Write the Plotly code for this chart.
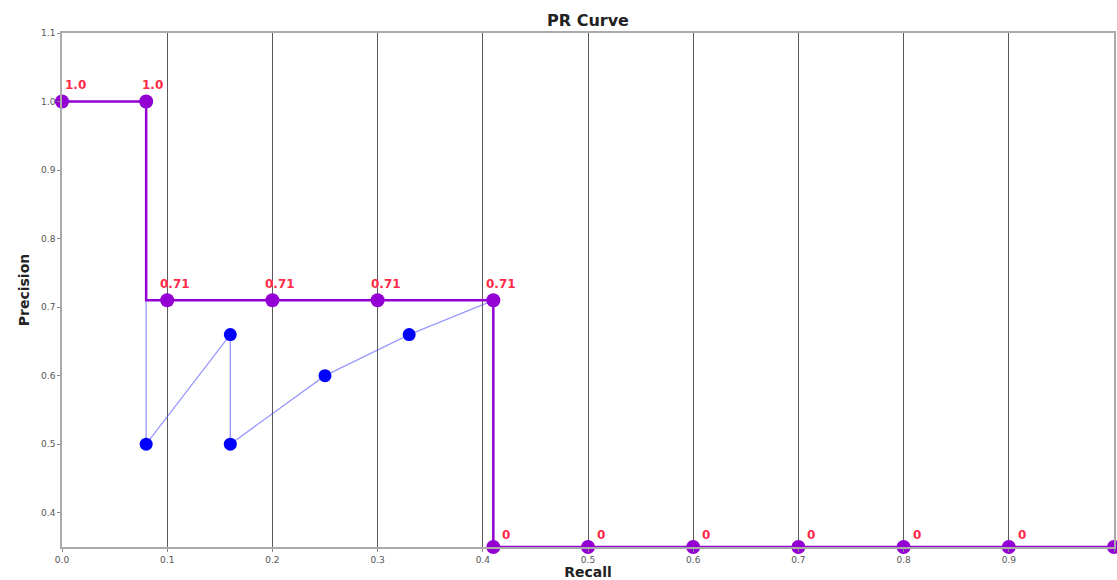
import numpy as np
import plotly.graph_objects as go

# Raw PR curve (blue)
recall_raw = [0.0, 0.08, 0.08, 0.16, 0.16, 0.25, 0.33, 0.41]
precision_raw = [1.0, 1.0, 0.5, 0.66, 0.5, 0.6, 0.66, 0.71]

# Interpolated PR curve (purple)
recall_interp = [0.0, 0.08, 0.1, 0.2, 0.3, 0.41, 0.41, 0.5, 0.6, 0.7, 0.8, 0.9, 1.0]
precision_interp = [1.0, 1.0, 0.71, 0.71, 0.71, 0.71, 0, 0, 0, 0, 0, 0, 0]
labels_interp = ["1.0", "1.0", "0.71", "0.71", "0.71", "0.71", "0", "0", "0", "0", "0", "0", ""]

x_ticks = [0.0, 0.1, 0.2, 0.3, 0.4, 0.5, 0.6, 0.7, 0.8, 0.9, 1.0]
y_ticks = [0.4, 0.5, 0.6, 0.7, 0.8, 0.9, 1.0, 1.1]
Y_MIN, Y_MAX = 0.35, 1.1

FONT = "DejaVu Sans"
PURPLE = "#9400d3"

fig = go.Figure()

fig.add_trace(go.Scatter(
    x=recall_raw, y=precision_raw, mode="lines+markers",
    line=dict(color="rgba(70,70,255,0.55)", width=1.3),
    marker=dict(color="#0000ff", size=13),
    cliponaxis=False, showlegend=False,
))

y_plot = np.maximum(np.array(precision_interp, dtype=float), Y_MIN)
fig.add_trace(go.Scatter(
    x=recall_interp, y=y_plot, mode="lines+markers",
    line=dict(color=PURPLE, width=2.5, shape="vh"),
    marker=dict(color=PURPLE, size=14),
    cliponaxis=False, showlegend=False,
))

# label pixel offsets (style only)
label_dx = [1, -6, -9, -9, -9, -9, 7, 7, 7, 7, 7, 7, 7]
label_dy = [17, 17, 16, 16, 16, 16, 12, 12, 12, 12, 12, 12, 12]
for xv, yv, txt, dx, dy in zip(recall_interp, y_plot, labels_interp, label_dx, label_dy):
    if not txt:
        continue
    fig.add_annotation(
        x=xv, y=yv, text=f"<b>{txt}</b>", showarrow=False,
        xanchor="left", yanchor="middle", xshift=dx, yshift=dy,
        font=dict(color="#ff2a4a", size=12, family=FONT),
    )

fig.update_layout(
    width=1117, height=580,
    margin=dict(l=62, r=3, t=33, b=33, autoexpand=False),
    paper_bgcolor="white", plot_bgcolor="white",
    font=dict(family=FONT, color="#444"),
    title=dict(text="<b>PR Curve</b>", x=(62 + 1114) / 2 / 1117, xanchor="center",
               y=1 - 20 / 580, yanchor="middle", font=dict(size=16, color="#222", family=FONT)),
    xaxis=dict(
        range=[0, 1.0], tickvals=x_ticks, ticktext=[f"{v:.1f}" for v in x_ticks],
        showgrid=True, gridcolor="#5a5a5a", gridwidth=1.4,
        showline=True, linecolor="#aaa", linewidth=1.5, mirror=True,
        ticks="outside", ticklen=3, tickcolor="#888",
        tickfont=dict(size=9, color="#555"), zeroline=False, automargin=False,
        title=dict(text="<b>Recall</b>", font=dict(size=14, color="#222"), standoff=5),
    ),
    yaxis=dict(
        range=[Y_MIN, Y_MAX], tickvals=y_ticks, ticktext=[f"{v:.1f}" for v in y_ticks],
        showgrid=False,
        showline=True, linecolor="#aaa", linewidth=1.5, mirror=True,
        ticks="outside", ticklen=3, tickcolor="#888",
        tickfont=dict(size=9, color="#555"), zeroline=False, automargin=False,
        title=dict(text="<b>Precision</b>", font=dict(size=14, color="#222"), standoff=8),
    ),
)

fig.write_html("out.html")
